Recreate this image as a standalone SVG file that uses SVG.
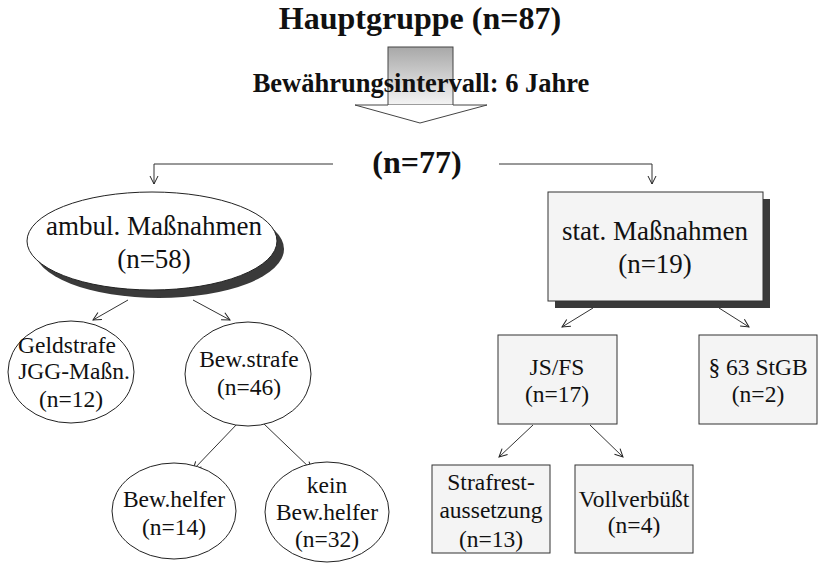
<svg xmlns="http://www.w3.org/2000/svg" width="819" height="563" viewBox="0 0 819 563">
<defs>
<linearGradient id="shaft" x1="0" y1="0" x2="0" y2="1">
<stop offset="0" stop-color="#a8a8a8"/>
<stop offset="1" stop-color="#f4f4f4"/>
</linearGradient>
<marker id="ah" viewBox="0 0 10 10" refX="9" refY="5" markerWidth="10" markerHeight="10" markerUnits="userSpaceOnUse" orient="auto">
<path d="M1,1 L9,5 L1,9" fill="none" stroke="#222" stroke-width="1"/>
</marker>
<style>
text{font-family:'Liberation Serif','Times New Roman','DejaVu Serif',serif;font-weight:normal;fill:#111;text-anchor:middle}
.b{font-weight:bold}
.big{font-size:27px}
.sm{font-size:23.5px}
.node{fill:#fff;stroke:#222;stroke-width:1}
.box{fill:#f4f4f4;stroke:#333;stroke-width:1}
.shadow{fill:#3a3a3a}
.con{fill:none;stroke:#333;stroke-width:1}
.arr{marker-end:url(#ah)}
</style>
</defs>
<rect width="819" height="563" fill="#fff"/>

<g id="connectors">
<polyline class="con arr" points="333,164 154,164 154,184"/>
<polyline class="con arr" points="499,164 652,164 652,184"/>
<line class="con arr" x1="128" y1="300" x2="93" y2="320"/>
<line class="con arr" x1="193" y1="300" x2="230" y2="320"/>
<line class="con arr" x1="593" y1="308" x2="562" y2="327"/>
<line class="con arr" x1="719" y1="308" x2="749" y2="327"/>
<line class="con arr" x1="238" y1="423" x2="193" y2="470"/>
<line class="con arr" x1="263" y1="423" x2="312" y2="470"/>
<line class="con arr" x1="533" y1="425" x2="499" y2="457"/>
<line class="con arr" x1="590" y1="425" x2="623" y2="457"/>
</g>

<g id="hauptgruppe">
<text class="b" x="420" y="29" font-size="32">Hauptgruppe (n=87)</text>
</g>

<g id="big-arrow">
<rect x="388" y="47" width="65" height="58" fill="url(#shaft)" stroke="#444" stroke-width="1"/>
<path d="M388,105 L355,105 L420,123 L487,105 L453,105" fill="#fff" stroke="#444" stroke-width="1"/>
<text class="b" x="421" y="92" font-size="26.5">Bewährungsintervall: 6 Jahre</text>
</g>

<g id="n77">
<text class="b" x="417" y="173" font-size="32">(n=77)</text>
</g>

<g id="ambul">
<ellipse class="shadow" cx="159" cy="249" rx="125" ry="49"/>
<ellipse class="node" cx="152" cy="241" rx="125" ry="49"/>
<text class="big" x="154" y="235">ambul. Maßnahmen</text>
<text class="big" x="154" y="268">(n=58)</text>
</g>

<g id="stat">
<rect class="shadow" x="555" y="199" width="215" height="109"/>
<rect class="box" x="548" y="192" width="215" height="109"/>
<text class="big" x="655" y="240">stat. Maßnahmen</text>
<text class="big" x="655" y="273">(n=19)</text>
</g>

<g id="geldstrafe">
<ellipse class="node" cx="71" cy="372" rx="63" ry="51"/>
<text class="sm" x="67" y="353">Geldstrafe</text>
<text class="sm" x="74" y="379">JGG-Maßn.</text>
<text class="sm" x="71" y="407">(n=12)</text>
</g>

<g id="bewstrafe">
<ellipse class="node" cx="248" cy="374" rx="63" ry="52"/>
<text class="sm" x="249" y="367">Bew.strafe</text>
<text class="sm" x="249" y="395">(n=46)</text>
</g>

<g id="bewhelfer">
<ellipse class="node" cx="174" cy="511" rx="62" ry="48"/>
<text class="sm" x="174" y="507">Bew.helfer</text>
<text class="sm" x="174" y="535">(n=14)</text>
</g>

<g id="keinbewhelfer">
<ellipse class="node" cx="327" cy="512" rx="62" ry="50"/>
<text class="sm" x="327" y="493">kein</text>
<text class="sm" x="327" y="520">Bew.helfer</text>
<text class="sm" x="327" y="547">(n=32)</text>
</g>

<g id="jsfs">
<rect class="box" x="498" y="335" width="119" height="89"/>
<text class="sm" x="557" y="375">JS/FS</text>
<text class="sm" x="557" y="402">(n=17)</text>
</g>

<g id="stgb">
<rect class="box" x="699" y="335" width="118" height="89"/>
<text class="sm" x="758" y="375">§ 63 StGB</text>
<text class="sm" x="758" y="402">(n=2)</text>
</g>

<g id="strafrest">
<rect class="box" x="432" y="465" width="118" height="88"/>
<text class="sm" x="491" y="490">Strafrest-</text>
<text class="sm" x="491" y="518">aussetzung</text>
<text class="sm" x="491" y="547">(n=13)</text>
</g>

<g id="vollverbuesst">
<rect class="box" x="575" y="465" width="118" height="88"/>
<text class="sm" x="634" y="507">Vollverbüßt</text>
<text class="sm" x="634" y="533">(n=4)</text>
</g>
</svg>
